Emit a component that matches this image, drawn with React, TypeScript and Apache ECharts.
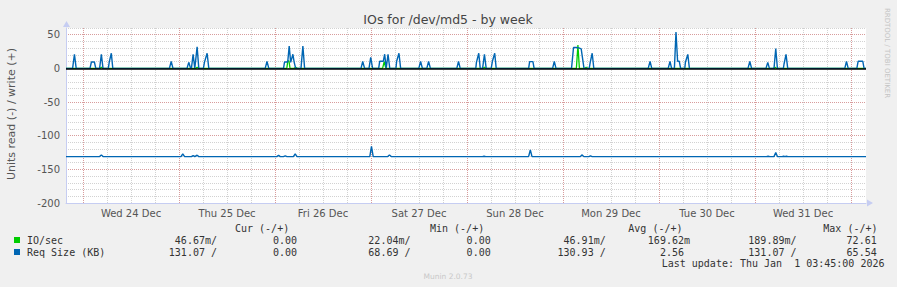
import React, { useEffect, useRef } from 'react';
import * as echarts from 'echarts';

// x values are hours since Tue 23 Dec 00:00
const X_MIN = 19.75;
const X_MAX = 219.75;

const dayLabels = ['Wed 24 Dec', 'Thu 25 Dec', 'Fri 26 Dec', 'Sat 27 Dec', 'Sun 28 Dec', 'Mon 29 Dec', 'Tue 30 Dec', 'Wed 31 Dec'];
const dayLabelHours = [36, 60, 84, 108, 132, 156, 180, 204];
const midnightHours = [24, 48, 72, 96, 120, 144, 168, 192, 216];
const sixHourTicks = [24, 30, 36, 42, 48, 54, 60, 66, 72, 78, 84, 90, 96, 102, 108, 114, 120, 126, 132, 138, 144, 150, 156, 162, 168, 174, 180, 186, 192, 198, 204, 210, 216];
const yMajorTicks = [-200, -150, -100, -50, 0, 50];

// IO/sec, write (+)
const ioWrite: [number, number][] = [
  [19.75, 0],
  [28.2, 0], [28.59, 1.5], [29.0, 0],
  [52.1, 0], [52.53, 1.5], [52.95, 0],
  [74.95, 0], [75.2, 11], [75.5, 11], [75.75, 0],
  [76.75, 0], [77.17, 1.5], [77.6, 0],
  [98.9, 0], [99.3, 10], [99.7, 0],
  [123.95, 0], [124.36, 1.5], [124.8, 0],
  [147.35, 0], [147.73, 34.5], [148.1, 0],
  [149.4, 0], [149.8, 1.5], [150.2, 0],
  [196.6, 0], [197.0, 1.5], [197.4, 0],
  [219.75, 0],
];

// Req Size (KB), write (+)
const reqWrite: [number, number][] = [
  [19.75, 0],
  [21.4, 0], [21.86, 21], [22.3, 0],
  [25.75, 0], [26.1, 9.5], [26.84, 9.5], [27.2, 0],
  [28.15, 0], [28.59, 21], [29.0, 0],
  [30.33, 0], [30.58, 10], [31.08, 22.5], [31.45, 0],
  [45.6, 0], [46.05, 10.5], [46.5, 0],
  [50.0, 0], [50.44, 9], [50.9, 0],
  [51.1, 0], [51.53, 21], [51.95, 0],
  [52.1, 0], [52.53, 32], [52.95, 0],
  [54.1, 0], [54.36, 9], [55.03, 22.5], [55.45, 0],
  [69.55, 0], [70.0, 10.5], [70.45, 0],
  [74.13, 0], [74.38, 9.5], [75.18, 9.5], [75.55, 33], [75.92, 9], [76.47, 21], [76.8, 9], [77.17, 0],
  [78.5, 0], [78.97, 33], [79.4, 0],
  [93.5, 0], [93.93, 10.5], [94.4, 0],
  [95.5, 0], [95.93, 16.3], [96.4, 0],
  [97.92, 0], [98.17, 10.5], [99.07, 10.5], [99.42, 21], [99.81, 0], [100.26, 21], [100.69, 0],
  [102.24, 0], [102.41, 10.5], [102.99, 22.5], [103.41, 0],
  [107.95, 0], [108.4, 10.5], [108.85, 0],
  [109.95, 0], [110.4, 10.5], [110.85, 0],
  [117.45, 0], [117.88, 10.5], [118.3, 0],
  [122.2, 0], [122.36, 9], [122.94, 22.5], [123.31, 0],
  [123.9, 0], [124.36, 21], [124.8, 0],
  [126.05, 0], [126.35, 10.5], [126.93, 22.5], [127.3, 0],
  [135.41, 0], [135.66, 10], [136.48, 10], [136.78, 0],
  [141.4, 0], [141.82, 10.5], [142.25, 0],
  [146.13, 0], [146.63, 31], [147.38, 31], [147.95, 30.5], [148.55, 29], [149.25, 0],
  [150.55, 0], [150.8, 9], [151.3, 22.5], [151.7, 0],
  [165.3, 0], [165.76, 10.5], [166.2, 0],
  [170.3, 0], [170.75, 10.5], [171.15, 0],
  [171.85, 0], [172.25, 54], [172.65, 10.5], [173.07, 10.5], [173.4, 0],
  [174.45, 0], [174.6, 9], [175.2, 20.7], [175.6, 0],
  [190.25, 0], [190.7, 10.5], [191.15, 0],
  [194.75, 0], [195.19, 9], [195.6, 0],
  [196.75, 0], [197.19, 29.6], [197.6, 0],
  [199.09, 0], [199.26, 6.5], [199.76, 20.7], [200.18, 0],
  [214.45, 0], [214.87, 10.5], [215.3, 0],
  [217.46, 0], [217.78, 10.5], [218.95, 10.5], [219.27, 0],
  [219.75, 0],
];

// Req Size (KB), read (-)
const reqRead: [number, number][] = [
  [19.75, -131.07],
  [28.15, -131.07], [28.59, -128.5], [29.0, -131.07],
  [48.5, -131.07], [48.94, -127], [49.4, -131.07],
  [51.1, -131.07], [51.53, -129.5], [51.95, -131.07],
  [52.1, -131.07], [52.53, -129], [52.95, -131.07],
  [72.45, -131.07], [72.89, -129], [73.3, -131.07],
  [74.1, -131.07], [74.56, -130], [75.0, -131.07],
  [76.6, -131.07], [77.05, -127], [77.5, -131.07],
  [95.7, -131.07], [96.12, -116], [96.55, -131.07],
  [100.2, -131.07], [100.61, -128.5], [101.05, -131.07],
  [123.85, -131.07], [124.26, -130.5], [124.7, -131.07],
  [135.4, -131.07], [135.83, -121], [136.25, -131.07],
  [148.35, -131.07], [148.8, -128.5], [149.2, -131.07],
  [150.45, -131.07], [150.87, -130], [151.3, -131.07],
  [194.85, -131.07], [195.27, -130.5], [195.7, -131.07],
  [196.75, -131.07], [197.19, -125], [197.6, -131.07],
  [198.75, -131.07], [199.18, -130.5], [199.5, -131.07], [199.83, -130.5], [200.25, -131.07],
  [219.75, -131.07],
];

const legendNames = ['IO/sec', 'Req Size (KB)'];
const legendColors = ['#00cc00', '#0066b3'];
const legendHeaders = ['Cur (-/+)', 'Min (-/+)', 'Avg (-/+)', 'Max (-/+)'];
const curRead = ['46.67m/', '131.07 /'];
const curWrite = ['0.00', '0.00'];
const minRead = ['22.04m/', '68.69 /'];
const minWrite = ['0.00', '0.00'];
const avgRead = ['46.91m/', '130.93 /'];
const avgWrite = ['169.62m', '2.56\u00a0'];
const maxRead = ['189.89m/', '131.07 /'];
const maxWrite = ['72.61', '65.54'];
const lastUpdate = 'Last update: Thu Jan \u00a01 03:45:00 2026';

const GRAY = 'rgba(143,143,143,0.4)';
const RED = 'rgba(224,80,80,0.42)';
const AXIS = '#c6cdf2';
const MONO = '"DejaVu Sans Mono", monospace';
const SANS = '"DejaVu Sans", sans-serif';

function txt(text: string, x: number, y: number, opts: any = {}) {
  return {
    type: 'text',
    x,
    y,
    rotation: opts.rotation || 0,
    silent: true,
    style: {
      text,
      fill: opts.fill || '#333',
      font: opts.font || `10px ${MONO}`,
      textAlign: opts.align || 'left',
      align: opts.align || 'left',
      textVerticalAlign: 'middle',
      verticalAlign: 'middle',
    },
  };
}

export default function App() {
  const ref = useRef<HTMLDivElement>(null);
  useEffect(() => {
    document.body.style.margin = '0';
    const chart = echarts.init(ref.current!, null, { renderer: 'svg' });

    const rowY = [240, 252];
    const colEnds = [217, 297, 410.5, 490.7, 605.7, 690, 796.5, 876.7];
    const cols = [curRead, curWrite, minRead, minWrite, avgRead, avgWrite, maxRead, maxWrite];
    const headerX = [235, 430, 628.3, 823.3];

    const graphics: any[] = [
      txt('IOs for /dev/md5 - by week', 448, 19.5, { font: `12.5px ${SANS}`, fill: '#444', align: 'center' }),
      txt('Units read (-) / write (+)', 11, 114, { font: `11px ${SANS}`, fill: '#555', align: 'center', rotation: Math.PI / 2 }),
      txt('RRDTOOL / TOBI OETIKER', 887, 53, { font: `7px ${SANS}`, fill: '#c4c4c4', align: 'center', rotation: -Math.PI / 2 }),
      txt('Munin 2.0.73', 448, 276, { font: `7.5px ${SANS}`, fill: '#c8c8c8', align: 'center' }),
      { type: 'polygon', silent: true, shape: { points: [[63, 27], [70, 27], [66.5, 21]] }, style: { fill: AXIS } },
      { type: 'polygon', silent: true, shape: { points: [[867, 199.5], [867, 206.5], [873, 203]] }, style: { fill: AXIS } },
    ];
    legendHeaders.forEach((h, i) => graphics.push(txt(h, headerX[i], 228)));
    legendNames.forEach((n, r) => {
      graphics.push({ type: 'rect', silent: true, shape: { x: 14, y: rowY[r] - 3, width: 6, height: 6 }, style: { fill: legendColors[r] } });
      graphics.push(txt(n, 27, rowY[r]));
      cols.forEach((c, ci) => graphics.push(txt(c[r], colEnds[ci], rowY[r], { align: 'right' })));
    });
    graphics.push(txt(lastUpdate, 661.7, 263.5));

    const vAxisBase = {
      type: 'value',
      min: X_MIN,
      max: X_MAX,
      gridIndex: 0,
    };

    chart.setOption({
      animation: false,
      backgroundColor: '#f0f0f0',
      grid: { left: 66, right: 31, top: 28, bottom: 84, show: true, backgroundColor: '#ffffff', borderWidth: 0 },
      xAxis: [
        {
          ...vAxisBase,
          position: 'bottom',
          axisLine: { show: true, onZero: false, lineStyle: { color: AXIS, width: 1 } },
          axisTick: { show: false, customValues: dayLabelHours },
          axisLabel: {
            customValues: dayLabelHours,
            formatter: (v: number) => dayLabels[dayLabelHours.indexOf(v)] ?? '',
            color: '#555',
            fontSize: 10,
            fontFamily: SANS,
            margin: 5,
          },
          splitLine: { show: false },
        },
        {
          ...vAxisBase,
          position: 'bottom',
          axisLine: { show: false, onZero: false },
          axisTick: { show: false, customValues: sixHourTicks },
          axisLabel: { show: false },
          splitLine: { show: true, lineStyle: { color: GRAY, type: [1, 1], width: 1 } },
        },
        {
          ...vAxisBase,
          position: 'bottom',
          axisLine: { show: false, onZero: false },
          axisTick: { show: false, customValues: midnightHours },
          axisLabel: { show: false },
          splitLine: { show: true, lineStyle: { color: RED, type: [1, 1], width: 1 } },
        },
      ],
      yAxis: [
        {
          type: 'value',
          min: -200,
          max: 60,
          interval: 10,
          position: 'left',
          axisLine: { show: true, onZero: false, lineStyle: { color: AXIS, width: 1 } },
          axisTick: { show: false },
          axisLabel: { show: false },
          splitLine: { show: true, lineStyle: { color: GRAY, type: [1, 1], width: 1 } },
        },
        {
          type: 'value',
          min: -200,
          max: 60,
          position: 'left',
          axisLine: { show: false, onZero: false },
          axisTick: { show: false, customValues: yMajorTicks },
          axisLabel: { customValues: yMajorTicks, color: '#555', fontSize: 10, fontFamily: SANS, margin: 6 },
          splitLine: { show: true, lineStyle: { color: RED, type: [1, 1], width: 1 } },
        },
      ],
      series: [
        {
          name: 'IO/sec',
          type: 'line',
          xAxisIndex: 0,
          yAxisIndex: 0,
          data: ioWrite,
          showSymbol: false,
          symbol: 'none',
          lineStyle: { color: '#00cc00', width: 1.3 },
          z: 3,
        },
        {
          name: 'Req Size (KB) write',
          type: 'line',
          xAxisIndex: 0,
          yAxisIndex: 0,
          data: reqWrite,
          showSymbol: false,
          symbol: 'none',
          lineStyle: { color: '#0066b3', width: 1.4 },
          z: 4,
          markLine: {
            silent: true,
            symbol: 'none',
            label: { show: false },
            lineStyle: { color: '#000', width: 1.5, type: 'solid' },
            data: [{ yAxis: 0 }],
          },
        },
        {
          name: 'Req Size (KB) read',
          type: 'line',
          xAxisIndex: 0,
          yAxisIndex: 0,
          data: reqRead,
          showSymbol: false,
          symbol: 'none',
          lineStyle: { color: '#0066b3', width: 1.4 },
          z: 4,
        },
      ],
      graphic: graphics,
    });
    return () => chart.dispose();
  }, []);
  return <div ref={ref} style={{ width: 897, height: 287 }} />;
}
